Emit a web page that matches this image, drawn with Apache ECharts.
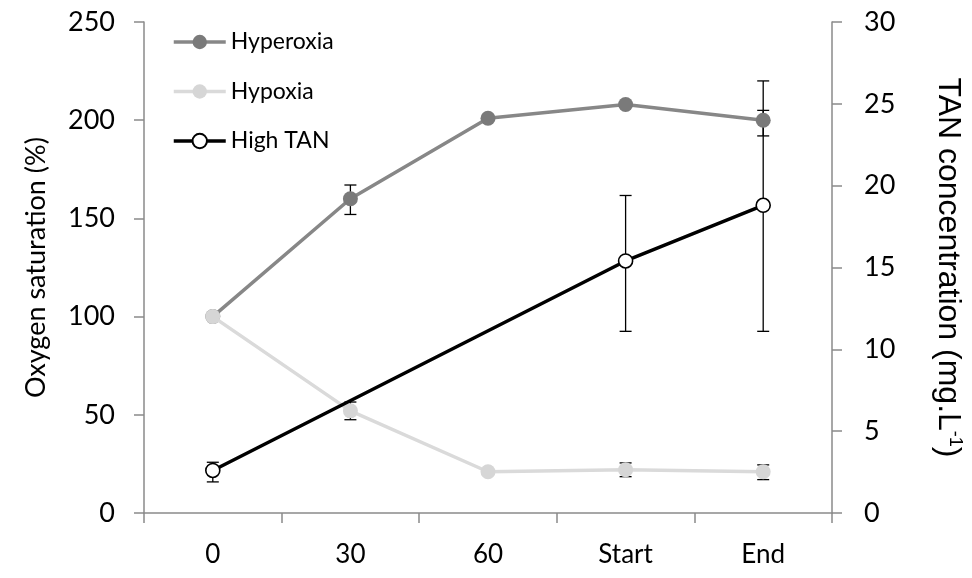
<!DOCTYPE html>
<html>
<head>
<meta charset="utf-8">
<script src="https://cdn.jsdelivr.net/npm/echarts@6/dist/echarts.min.js"></script>
<style>
  html, body { margin: 0; padding: 0; background: #fff; }
  #chart { width: 972px; height: 578px; }
</style>
</head>
<body>
<div id="chart"></div>
<script>
// Sampling points on the x axis
const categories = ['0', '30', '60', 'Start', 'End'];

// Oxygen saturation (%), left axis
const hyperoxia     = [100, 160, 201, 208, 200];
const hyperoxiaLow  = [null, 152, null, null, 192];
const hyperoxiaHigh = [null, 167, null, null, 205];

const hypoxia     = [100, 52, 21, 22, 21];
const hypoxiaLow  = [null, 47.5, null, 18.5, 17];
const hypoxiaHigh = [null, 56.5, null, 25.5, 24.5];

// TAN concentration (mg.L-1), right axis
const highTAN     = [2.6, null, null, 15.4, 18.8];
const highTANLow  = [1.9, null, null, 11.1, 11.1];
const highTANHigh = [3.1, null, null, 19.4, 26.4];

// Tick settings for both value axes
const leftTicks  = { min: 0, max: 250, interval: 50 };
const rightTicks = { min: 0, max: 30, interval: 5 };

const FONT = 'Lato, "Open Sans", sans-serif';
const SANS = '"Liberation Sans", Arial, sans-serif';
const AXIS_COLOR = '#8a8a8a';

function errorRows(low, high) {
  const rows = [];
  low.forEach((lo, i) => {
    if (lo != null && high[i] != null) rows.push([i, lo, high[i]]);
  });
  return rows;
}

function errorBarSeries(low, high, yAxisIndex) {
  return {
    type: 'custom',
    yAxisIndex: yAxisIndex,
    z: 1,
    silent: true,
    data: errorRows(low, high),
    encode: { x: 0, y: [1, 2] },
    renderItem: function (params, api) {
      const cat = api.value(0);
      const top = api.coord([cat, api.value(2)]);
      const bot = api.coord([cat, api.value(1)]);
      const hw = 6;
      const style = { stroke: '#000', lineWidth: 1.3 };
      return {
        type: 'group',
        children: [
          { type: 'line', shape: { x1: top[0], y1: top[1], x2: bot[0], y2: bot[1] }, style: style },
          { type: 'line', shape: { x1: top[0] - hw, y1: top[1], x2: top[0] + hw, y2: top[1] }, style: style },
          { type: 'line', shape: { x1: bot[0] - hw, y1: bot[1], x2: bot[0] + hw, y2: bot[1] }, style: style }
        ]
      };
    }
  };
}

const chart = echarts.init(document.getElementById('chart'), null, { renderer: 'canvas' });

chart.setOption({
  animation: false,
  backgroundColor: '#fff',
  textStyle: { fontFamily: FONT },
  grid: { left: 144, right: 132, top: 22, bottom: 65, containLabel: false },
  legend: {
    orient: 'vertical',
    left: 167,
    top: 25,
    itemWidth: 52,
    itemHeight: 18,
    itemGap: 25.5,
    lineStyle: { width: 3.5 },
    textStyle: { fontFamily: FONT, fontSize: 23, lineHeight: 24, color: '#000' },
    data: ['Hyperoxia', 'Hypoxia', 'High TAN']
  },
  xAxis: {
    type: 'category',
    data: categories,
    boundaryGap: true,
    axisLine: { lineStyle: { color: AXIS_COLOR, width: 1.5 } },
    axisTick: { show: true, length: 10, alignWithLabel: false, lineStyle: { color: AXIS_COLOR, width: 1.5 } },
    axisLabel: { color: '#000', fontSize: 26, fontFamily: FONT, margin: 29 }
  },
  yAxis: [
    {
      type: 'value',
      position: 'left',
      min: leftTicks.min, max: leftTicks.max, interval: leftTicks.interval,
      name: 'Oxygen saturation (%)',
      nameLocation: 'middle',
      nameGap: 94,
      nameRotate: 90,
      nameTextStyle: { color: '#000', fontSize: 27, fontFamily: FONT },
      splitLine: { show: false },
      axisLine: { show: true, lineStyle: { color: AXIS_COLOR, width: 1.5 } },
      axisTick: { show: true, length: 10, lineStyle: { color: AXIS_COLOR, width: 1.5 } },
      axisLabel: { color: '#000', fontSize: 27, fontFamily: FONT, margin: 29 }
    },
    {
      type: 'value',
      position: 'right',
      min: rightTicks.min, max: rightTicks.max, interval: rightTicks.interval,
      name: 'TAN concentration (mg.L{sup|-1})',
      nameLocation: 'middle',
      nameGap: 100,
      nameRotate: -90,
      nameTextStyle: {
        color: '#000', fontSize: 32, fontFamily: SANS,
        rich: {
          sup: { fontSize: 18, fontFamily: SANS, color: '#000', verticalAlign: 'top', padding: [0, 0, 14, 0] }
        }
      },
      splitLine: { show: false },
      axisLine: { show: true, lineStyle: { color: AXIS_COLOR, width: 1.5 } },
      axisTick: { show: true, length: 10, lineStyle: { color: AXIS_COLOR, width: 1.5 } },
      axisLabel: { color: '#000', fontSize: 27, fontFamily: FONT, margin: 32 }
    }
  ],
  series: [
    errorBarSeries(hyperoxiaLow, hyperoxiaHigh, 0),
    errorBarSeries(hypoxiaLow, hypoxiaHigh, 0),
    errorBarSeries(highTANLow, highTANHigh, 1),
    {
      name: 'Hyperoxia',
      type: 'line',
      yAxisIndex: 0,
      data: hyperoxia,
      symbol: 'circle',
      symbolSize: 15,
      lineStyle: { color: '#878787', width: 3.5 },
      itemStyle: { color: '#7a7a7a', borderWidth: 0 },
      z: 3
    },
    {
      name: 'Hypoxia',
      type: 'line',
      yAxisIndex: 0,
      data: hypoxia,
      symbol: 'circle',
      symbolSize: 15,
      lineStyle: { color: '#dadada', width: 3.5 },
      itemStyle: { color: '#d6d6d6', borderWidth: 0 },
      z: 4
    },
    {
      name: 'High TAN',
      type: 'line',
      yAxisIndex: 1,
      data: highTAN,
      connectNulls: true,
      symbol: 'circle',
      symbolSize: 14,
      showAllSymbol: true,
      lineStyle: { color: '#000', width: 3.5 },
      itemStyle: { color: '#fff', borderColor: '#000', borderWidth: 1.6 },
      z: 5
    }
  ]
});
</script>
</body>
</html>
